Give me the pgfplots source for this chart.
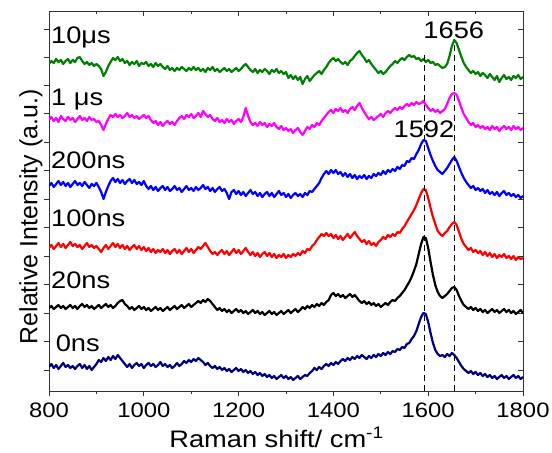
\documentclass[border=0pt]{standalone}
\usepackage{fontspec}
\setmainfont{Liberation Sans}[FakeStretch=1.14]
\newfontfamily\upright{Liberation Sans}
\usepackage{pgfplots}
\usepackage{pgfplotstable}
\pgfplotsset{compat=1.18}

% y values are read as depth from the top of the frame, so y dir=reverse below
\pgfplotstableread{
x y
800 64
805 61
810 63
815 59
820 62
825 60
830 64
835 61
840 59
845 63
850 60
855 62
860 58
865 57
870 61
875 64
880 62
885 65
890 63
895 66
900 64
905 66
910 69
915 76
920 72
925 66
930 62
935 58
940 60
945 57
950 61
955 59
960 63
965 61
970 65
975 62
980 64
985 61
990 66
995 63
1000 64
1005 62
1010 66
1015 64
1020 67
1025 63
1030 66
1035 64
1040 67
1045 69
1050 66
1055 70
1060 68
1065 71
1070 68
1075 70
1080 67
1085 69
1090 71
1095 68
1100 70
1105 67
1110 70
1115 68
1120 71
1125 69
1130 72
1135 68
1140 70
1145 67
1150 71
1155 69
1160 72
1165 70
1170 68
1175 71
1180 69
1185 72
1190 70
1195 68
1200 71
1205 69
1210 66
1215 64
1220 67
1225 70
1230 72
1235 69
1240 73
1245 70
1250 72
1255 69
1260 71
1265 74
1270 70
1275 72
1280 69
1285 73
1290 71
1295 74
1300 72
1305 78
1310 75
1315 79
1320 76
1325 80
1330 77
1335 84
1340 79
1345 76
1350 81
1355 78
1360 75
1365 73
1370 71
1375 74
1380 70
1385 67
1390 63
1395 60
1400 58
1405 61
1410 59
1415 62
1420 64
1425 62
1430 65
1435 61
1440 59
1445 56
1450 53
1455 51
1460 55
1465 58
1470 62
1475 60
1480 64
1485 67
1490 70
1495 73
1500 71
1505 74
1510 72
1515 69
1520 66
1525 64
1530 61
1535 63
1540 60
1545 58
1550 60
1555 57
1560 55
1565 57
1570 56
1575 59
1580 58
1585 61
1590 59
1595 62
1600 60
1605 63
1610 62
1615 65
1620 64
1625 66
1630 68
1635 67
1640 64
1645 56
1650 46
1655 40
1660 43
1665 50
1670 57
1675 63
1680 67
1685 70
1690 73
1695 71
1700 74
1705 72
1710 76
1715 73
1720 75
1725 78
1730 74
1735 77
1740 80
1745 76
1750 82
1755 78
1760 75
1765 79
1770 77
1775 80
1780 76
1785 78
1790 75
1795 79
1800 77
}\tgreen

\pgfplotstableread{
x y
800 120
805 117
810 121
815 118
820 122
825 116
830 119
835 121
840 117
845 120
850 118
855 122
860 119
865 116
870 120
875 118
880 121
885 117
890 120
895 119
900 122
905 121
910 125
915 130
920 124
925 119
930 115
935 117
940 114
945 117
950 115
955 118
960 116
965 113
970 117
975 115
980 118
985 116
990 119
995 117
1000 115
1005 118
1010 116
1015 120
1020 123
1025 121
1030 125
1035 122
1040 126
1045 123
1050 121
1055 124
1060 122
1065 125
1070 121
1075 118
1080 116
1085 119
1090 115
1095 117
1100 114
1105 118
1110 116
1115 113
1120 117
1125 111
1130 114
1135 117
1140 115
1145 119
1150 121
1155 118
1160 122
1165 120
1170 123
1175 119
1180 122
1185 120
1190 124
1195 121
1200 119
1205 122
1210 117
1215 108
1220 116
1225 122
1230 125
1235 123
1240 126
1245 122
1250 125
1255 123
1260 127
1265 124
1270 126
1275 123
1280 127
1285 129
1290 126
1295 130
1300 128
1305 131
1310 129
1315 133
1320 130
1325 128
1330 132
1335 135
1340 131
1345 127
1350 129
1355 125
1360 127
1365 123
1370 125
1375 121
1380 118
1385 115
1390 112
1395 110
1400 113
1405 109
1410 111
1415 108
1420 112
1425 110
1430 113
1435 109
1440 107
1445 110
1450 106
1455 103
1460 108
1465 112
1470 116
1475 119
1480 117
1485 120
1490 118
1495 116
1500 114
1505 117
1510 113
1515 111
1520 113
1525 110
1530 108
1535 110
1540 107
1545 109
1550 106
1555 104
1560 106
1565 103
1570 105
1575 102
1580 104
1585 103
1590 101
1595 105
1600 108
1605 111
1610 109
1615 112
1620 110
1625 113
1630 111
1635 109
1640 104
1645 98
1650 94
1655 93
1660 95
1665 101
1670 108
1675 114
1680 118
1685 122
1690 125
1695 123
1700 127
1705 125
1710 128
1715 126
1720 129
1725 127
1730 130
1735 126
1740 129
1745 127
1750 131
1755 128
1760 126
1765 129
1770 127
1775 130
1780 126
1785 129
1790 127
1795 130
1800 128
}\tmag

\pgfplotstableread{
x y
800 186
805 183
810 187
815 184
820 181
825 185
830 182
835 186
840 183
845 187
850 184
855 181
860 185
865 183
870 186
875 182
880 185
885 188
890 184
895 186
900 183
905 187
910 192
915 199
920 192
925 186
930 181
935 178
940 182
945 179
950 183
955 180
960 184
965 181
970 179
975 183
980 180
985 184
990 182
995 185
1000 181
1005 186
1010 189
1015 186
1020 190
1025 187
1030 191
1035 188
1040 186
1045 190
1050 187
1055 191
1060 189
1065 186
1070 190
1075 188
1080 192
1085 189
1090 186
1095 190
1100 188
1105 191
1110 187
1115 190
1120 188
1125 185
1130 189
1135 187
1140 191
1145 188
1150 192
1155 189
1160 187
1165 191
1170 189
1175 193
1180 199
1185 192
1190 190
1195 194
1200 191
1205 195
1210 192
1215 196
1220 193
1225 190
1230 194
1235 192
1240 196
1245 193
1250 197
1255 194
1260 192
1265 196
1270 193
1275 197
1280 194
1285 191
1290 195
1295 193
1300 197
1305 194
1310 198
1315 195
1320 193
1325 196
1330 194
1335 197
1340 193
1345 195
1350 191
1355 192
1360 189
1365 186
1370 183
1375 178
1380 174
1385 171
1390 174
1395 170
1400 173
1405 170
1410 174
1415 172
1420 176
1425 173
1430 177
1435 174
1440 178
1445 175
1450 179
1455 176
1460 178
1465 175
1470 179
1475 176
1480 178
1485 174
1490 176
1495 173
1500 175
1505 171
1510 174
1515 170
1520 172
1525 169
1530 171
1535 167
1540 169
1545 165
1550 166
1555 161
1560 162
1565 158
1570 159
1575 154
1580 150
1585 144
1590 140
1595 141
1600 148
1605 155
1610 161
1615 166
1620 170
1625 172
1630 174
1635 171
1640 168
1645 164
1650 160
1655 157
1660 161
1665 167
1670 173
1675 178
1680 182
1685 185
1690 188
1695 186
1700 190
1705 188
1710 191
1715 189
1720 193
1725 190
1730 194
1735 192
1740 195
1745 192
1750 196
1755 193
1760 191
1765 195
1770 193
1775 196
1780 194
1785 197
1790 195
1795 198
1800 196
}\tblue

\pgfplotstableread{
x y
800 248
805 245
810 249
815 246
820 243
825 247
830 244
835 248
840 245
845 242
850 246
855 244
860 247
865 245
870 249
875 246
880 243
885 247
890 245
895 248
900 246
905 249
910 252
915 248
920 245
925 249
930 246
935 243
940 247
945 244
950 248
955 245
960 249
965 246
970 250
975 247
980 245
985 249
990 246
995 250
1000 247
1005 251
1010 248
1015 252
1020 249
1025 253
1030 250
1035 252
1040 249
1045 253
1050 250
1055 254
1060 251
1065 249
1070 253
1075 250
1080 254
1085 251
1090 248
1095 252
1100 249
1105 253
1110 250
1115 247
1120 249
1125 246
1130 243
1135 247
1140 251
1145 254
1150 252
1155 255
1160 252
1165 250
1170 254
1175 251
1180 255
1185 252
1190 249
1195 253
1200 250
1205 254
1210 251
1215 248
1220 252
1225 255
1230 252
1235 256
1240 253
1245 257
1250 254
1255 252
1260 256
1265 253
1270 257
1275 254
1280 258
1285 255
1290 257
1295 254
1300 258
1305 255
1310 257
1315 254
1320 256
1325 253
1330 255
1335 251
1340 253
1345 249
1350 250
1355 246
1360 244
1365 240
1370 237
1375 234
1380 236
1385 233
1390 236
1395 234
1400 238
1405 235
1410 239
1415 236
1420 240
1425 237
1430 234
1435 238
1440 235
1445 232
1450 236
1455 239
1460 242
1465 240
1470 244
1475 241
1480 245
1485 243
1490 246
1495 242
1500 240
1505 237
1510 239
1515 235
1520 237
1525 234
1530 236
1535 232
1540 233
1545 229
1550 226
1555 222
1560 218
1565 214
1570 210
1575 205
1580 199
1585 193
1590 189
1595 190
1600 198
1605 208
1610 217
1615 224
1620 231
1625 234
1630 236
1635 233
1640 231
1645 227
1650 224
1655 222
1660 225
1665 232
1670 239
1675 244
1680 247
1685 250
1690 248
1695 252
1700 250
1705 253
1710 251
1715 255
1720 252
1725 256
1730 253
1735 257
1740 254
1745 258
1750 255
1755 257
1760 254
1765 258
1770 256
1775 259
1780 256
1785 260
1790 257
1795 259
1800 258
}\tred

\pgfplotstableread{
x y
800 308
805 306
810 309
815 307
820 305
825 308
830 306
835 309
840 307
845 305
850 308
855 306
860 309
865 306
870 304
875 307
880 305
885 308
890 306
895 309
900 307
905 305
910 308
915 306
920 304
925 307
930 305
935 308
940 306
945 303
950 301
955 300
960 304
965 306
970 309
975 307
980 310
985 308
990 306
995 309
1000 307
1005 310
1010 308
1015 311
1020 309
1025 307
1030 310
1035 308
1040 311
1045 309
1050 307
1055 310
1060 308
1065 306
1070 309
1075 307
1080 305
1085 308
1090 306
1095 304
1100 307
1105 305
1110 303
1115 301
1120 303
1125 300
1130 302
1135 299
1140 301
1145 304
1150 307
1155 310
1160 308
1165 311
1170 309
1175 312
1180 310
1185 313
1190 311
1195 309
1200 312
1205 310
1210 313
1215 311
1220 314
1225 312
1230 310
1235 313
1240 311
1245 314
1250 312
1255 315
1260 313
1265 311
1270 314
1275 312
1280 315
1285 313
1290 311
1295 314
1300 312
1305 310
1310 313
1315 311
1320 309
1325 312
1330 310
1335 307
1340 309
1345 306
1350 308
1355 305
1360 307
1365 304
1370 306
1375 303
1380 305
1385 302
1390 300
1395 295
1400 293
1405 296
1410 294
1415 297
1420 295
1425 298
1430 296
1435 294
1440 297
1445 295
1450 298
1455 301
1460 303
1465 301
1470 304
1475 302
1480 305
1485 303
1490 306
1495 304
1500 307
1505 305
1510 303
1515 305
1520 302
1525 300
1530 301
1535 298
1540 296
1545 293
1550 290
1555 286
1560 282
1565 277
1570 271
1575 264
1580 254
1585 244
1590 237
1595 238
1600 248
1605 262
1610 275
1615 285
1620 292
1625 296
1630 298
1635 296
1640 294
1645 291
1650 288
1655 287
1660 290
1665 296
1670 301
1675 305
1680 307
1685 309
1690 307
1695 310
1700 308
1705 311
1710 309
1715 312
1720 310
1725 313
1730 311
1735 309
1740 312
1745 310
1750 313
1755 311
1760 309
1765 312
1770 310
1775 313
1780 311
1785 314
1790 312
1795 310
1800 313
}\tblack

\pgfplotstableread{
x y
800 367
805 364
810 368
815 365
820 369
825 366
830 363
835 367
840 365
845 368
850 366
855 369
860 366
865 364
870 368
875 365
880 369
885 366
890 370
895 367
900 364
905 360
910 362
915 358
920 361
925 357
930 360
935 356
940 359
945 355
950 358
955 361
960 364
965 367
970 364
975 368
980 365
985 363
990 366
995 364
1000 368
1005 365
1010 363
1015 366
1020 364
1025 367
1030 365
1035 362
1040 366
1045 364
1050 367
1055 365
1060 368
1065 366
1070 363
1075 366
1080 364
1085 361
1090 363
1095 360
1100 362
1105 359
1110 361
1115 358
1120 360
1125 362
1130 365
1135 363
1140 366
1145 368
1150 366
1155 369
1160 367
1165 370
1170 368
1175 371
1180 369
1185 372
1190 370
1195 368
1200 371
1205 369
1210 372
1215 370
1220 373
1225 371
1230 374
1235 372
1240 375
1245 373
1250 376
1255 374
1260 377
1265 375
1270 378
1275 376
1280 379
1285 377
1290 375
1295 378
1300 376
1305 379
1310 377
1315 380
1320 378
1325 376
1330 379
1335 377
1340 375
1345 376
1350 373
1355 371
1360 368
1365 370
1370 367
1375 369
1380 366
1385 364
1390 366
1395 363
1400 365
1405 362
1410 364
1415 361
1420 359
1425 361
1430 358
1435 360
1440 357
1445 359
1450 356
1455 358
1460 355
1465 357
1470 359
1475 356
1480 358
1485 355
1490 357
1495 354
1500 356
1505 353
1510 355
1515 352
1520 354
1525 351
1530 352
1535 349
1540 350
1545 347
1550 348
1555 344
1560 343
1565 339
1570 336
1575 331
1580 324
1585 317
1590 313
1595 314
1600 322
1605 333
1610 343
1615 350
1620 354
1625 356
1630 355
1635 357
1640 354
1645 356
1650 353
1655 355
1660 358
1665 362
1670 366
1675 369
1680 371
1685 373
1690 371
1695 374
1700 372
1705 375
1710 373
1715 376
1720 374
1725 377
1730 375
1735 378
1740 376
1745 379
1750 377
1755 375
1760 378
1765 376
1770 379
1775 377
1780 375
1785 378
1790 376
1795 379
1800 377
}\tnavy

\definecolor{cgreen}{RGB}{0,128,0}
\definecolor{cmag}{RGB}{255,0,255}
\definecolor{cblue}{RGB}{0,0,255}
\definecolor{cred}{RGB}{255,0,0}
\definecolor{cnavy}{RGB}{0,0,128}

\pgfplotsset{
  frame/.style={
    at={(49bp,62bp)}, anchor=south west,
    scale only axis, width=474bp, height=380bp,
    xmin=800, xmax=1800, ymin=11, ymax=391, y dir=reverse,
    xtick={800,1000,...,1800}, minor x tick num=1,
    ytick={29,57,85,113,142,170,199,227,256,284,313,341,370},
    major tick length=5bp, minor tick length=3bp,
    every tick/.style={black!80, line width=0.8bp},
  },
}

\begin{document}
\begin{tikzpicture}
\useasboundingbox (0,0) rectangle (552bp,453bp);
% top and right: ticks pointing in
\begin{axis}[frame,
  axis x line*=top, axis y line*=right, axis line style={-},
  tick align=inside, xticklabels={}, yticklabels={},
  axis line style={black!80, line width=1bp},
]
\addplot[draw=none] coordinates {(800,200)};
\end{axis}
% bottom and left: ticks pointing out, with the data
\begin{axis}[frame,
  axis x line*=bottom, axis y line*=left,
  tick align=outside, yticklabels={},
  axis line style={-, black!80, line width=1bp},
  /pgf/number format/assume math mode=true,
  /pgf/number format/set thousands separator={},
  xticklabel style={font=\fontsize{21}{21}\selectfont, yshift=-3bp},
  xlabel={Raman shift/ cm\textsuperscript{-1}},
  xlabel style={font=\fontsize{24}{24}\selectfont, at={(axis description cs:0.48,0)}, anchor=base, yshift=-56bp},
  every axis plot/.append style={line width=2.2bp, line join=round},
]
\addplot[cgreen] table {\tgreen};
\addplot[cmag] table {\tmag};
\addplot[cblue] table {\tblue};
\addplot[cred] table {\tred};
\addplot[black] table {\tblack};
\addplot[cnavy] table {\tnavy};

\draw[black, line width=1.5bp, dash pattern=on 6bp off 4bp] (axis cs:1592,55) -- (axis cs:1592,391);
\draw[black, line width=1.5bp, dash pattern=on 6bp off 4bp] (axis cs:1656,45) -- (axis cs:1656,391);

\begin{scope}[every node/.style={font=\fontsize{24}{24}\selectfont, inner sep=0pt}]
\node[anchor=west] at (axis cs:804,37) {10μs};
\node[anchor=west] at (axis cs:804,100) {1 μs};
\node[anchor=west] at (axis cs:804,160) {200ns};
\node[anchor=west] at (axis cs:804,218) {100ns};
\node[anchor=west] at (axis cs:804,280) {20ns};
\node[anchor=west] at (axis cs:814,343) {0ns};
\node at (axis cs:1654,30) {1656};
\node at (axis cs:1591,129) {1592};
\end{scope}
\end{axis}
% y label, outside the axis clip; upright font, as the stretch of the source is horizontal only
\node[rotate=90, anchor=center, inner sep=0pt, font=\upright\fontsize{25}{25}\selectfont]
  at (31bp,236bp) {Relative Intensity (a.u.)};
\end{tikzpicture}
\end{document}
